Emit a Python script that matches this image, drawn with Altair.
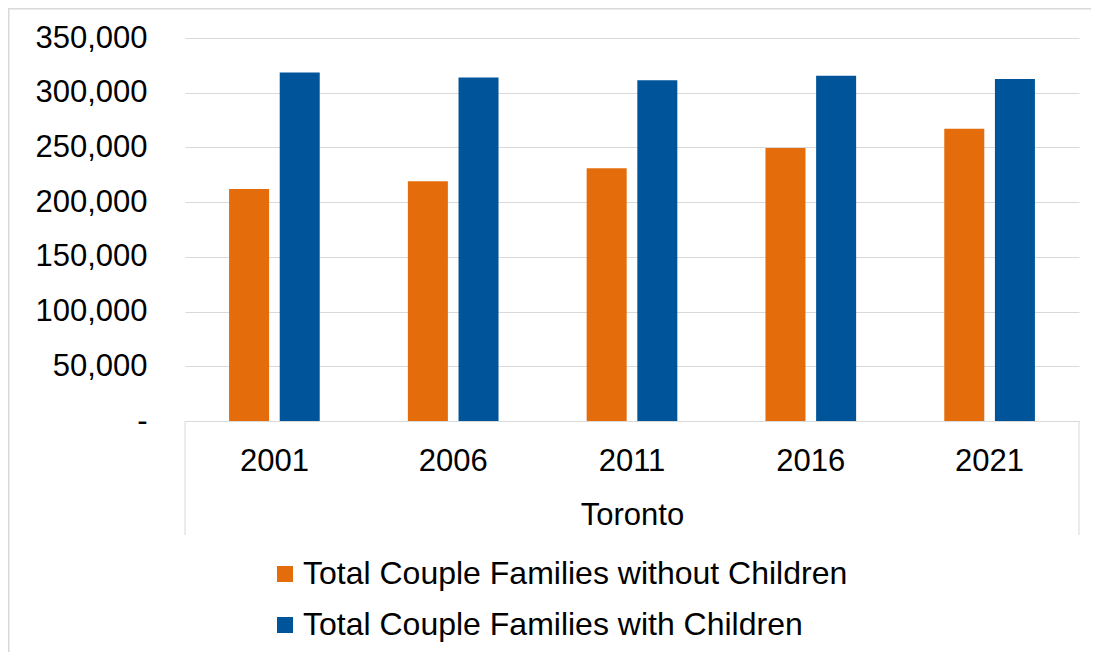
import altair as alt
import pandas as pd

years = ["2001", "2006", "2011", "2016", "2021"]
without_children = [212000, 219000, 231000, 249500, 267000]
with_children = [318500, 314000, 311500, 315500, 312500]
series = ["Total Couple Families without Children", "Total Couple Families with Children"]
colors = ["#E46C0A", "#00559A"]
y_ticks = [0, 50000, 100000, 150000, 200000, 250000, 300000, 350000]
category = "Toronto"

rows = []
for i, yr in enumerate(years):
    rows.append({"year": yr, "series": series[0], "value": without_children[i]})
    rows.append({"year": yr, "series": series[1], "value": with_children[i]})
df = pd.DataFrame(rows)

W, H = 894, 383
FONT = "Liberation Sans"
GRID = "#d9d9d9"

bars = alt.Chart(df).mark_bar().encode(
    x=alt.X(
        "year:N", sort=years,
        scale=alt.Scale(paddingInner=0.493, paddingOuter=0.2465),
        axis=alt.Axis(title=category, labelAngle=0, ticks=False, domain=True,
                      domainColor=GRID, domainWidth=1, labelPadding=25,
                      titlePadding=24, grid=False),
    ),
    xOffset=alt.XOffset("series:N", sort=series,
                        scale=alt.Scale(paddingInner=0.21, paddingOuter=0)),
    y=alt.Y(
        "value:Q",
        scale=alt.Scale(domain=[0, 350000], nice=False),
        axis=alt.Axis(values=y_ticks, title=None, ticks=False, domain=False,
                      gridColor=GRID, gridWidth=1, labelPadding=38,
                      labelExpr="datum.value == 0 ? '-\u00a0\u00a0' : format(datum.value, ',')"),
    ),
    color=alt.Color(
        "series:N", sort=series,
        scale=alt.Scale(domain=series, range=colors),
        legend=alt.Legend(title=None, orient="none", legendX=84, legendY=520,
                          direction="vertical", symbolType="square", symbolSize=256,
                          symbolStrokeWidth=0, labelFontSize=32, labelOffset=2,
                          rowPadding=19, labelLimit=0, padding=0,
                          labelFont=FONT, labelColor="#000000"),
    ),
)

deco = pd.DataFrame({"k": [0]})
box_left = alt.Chart(deco).mark_rule(color=GRID, strokeWidth=1).encode(
    x=alt.value(0), y=alt.value(H), y2=alt.value(H + 114))
box_right = alt.Chart(deco).mark_rule(color=GRID, strokeWidth=1).encode(
    x=alt.value(W), y=alt.value(H), y2=alt.value(H + 114))
frame_left = alt.Chart(deco).mark_rule(color=GRID, strokeWidth=2).encode(
    x=alt.value(-176.5), y=alt.value(-30), y2=alt.value(H + 231))
frame_top = alt.Chart(deco).mark_rule(color=GRID, strokeWidth=2).encode(
    x=alt.value(-177), x2=alt.value(W + 12), y=alt.value(-29.5))

chart = alt.layer(bars, box_left, box_right, frame_left, frame_top).properties(
    width=W, height=H,
    autosize=alt.AutoSizeParams(type="none"),
    padding={"left": 177, "top": 30, "right": 12, "bottom": 231},
).configure(font=FONT).configure_axis(
    labelFont=FONT, labelFontSize=31, labelColor="#000000",
    titleFont=FONT, titleFontSize=31, titleFontWeight="normal", titleColor="#000000",
).configure_view(stroke=None)

chart.save("out.html", embed_options={"renderer": "svg", "actions": False})
